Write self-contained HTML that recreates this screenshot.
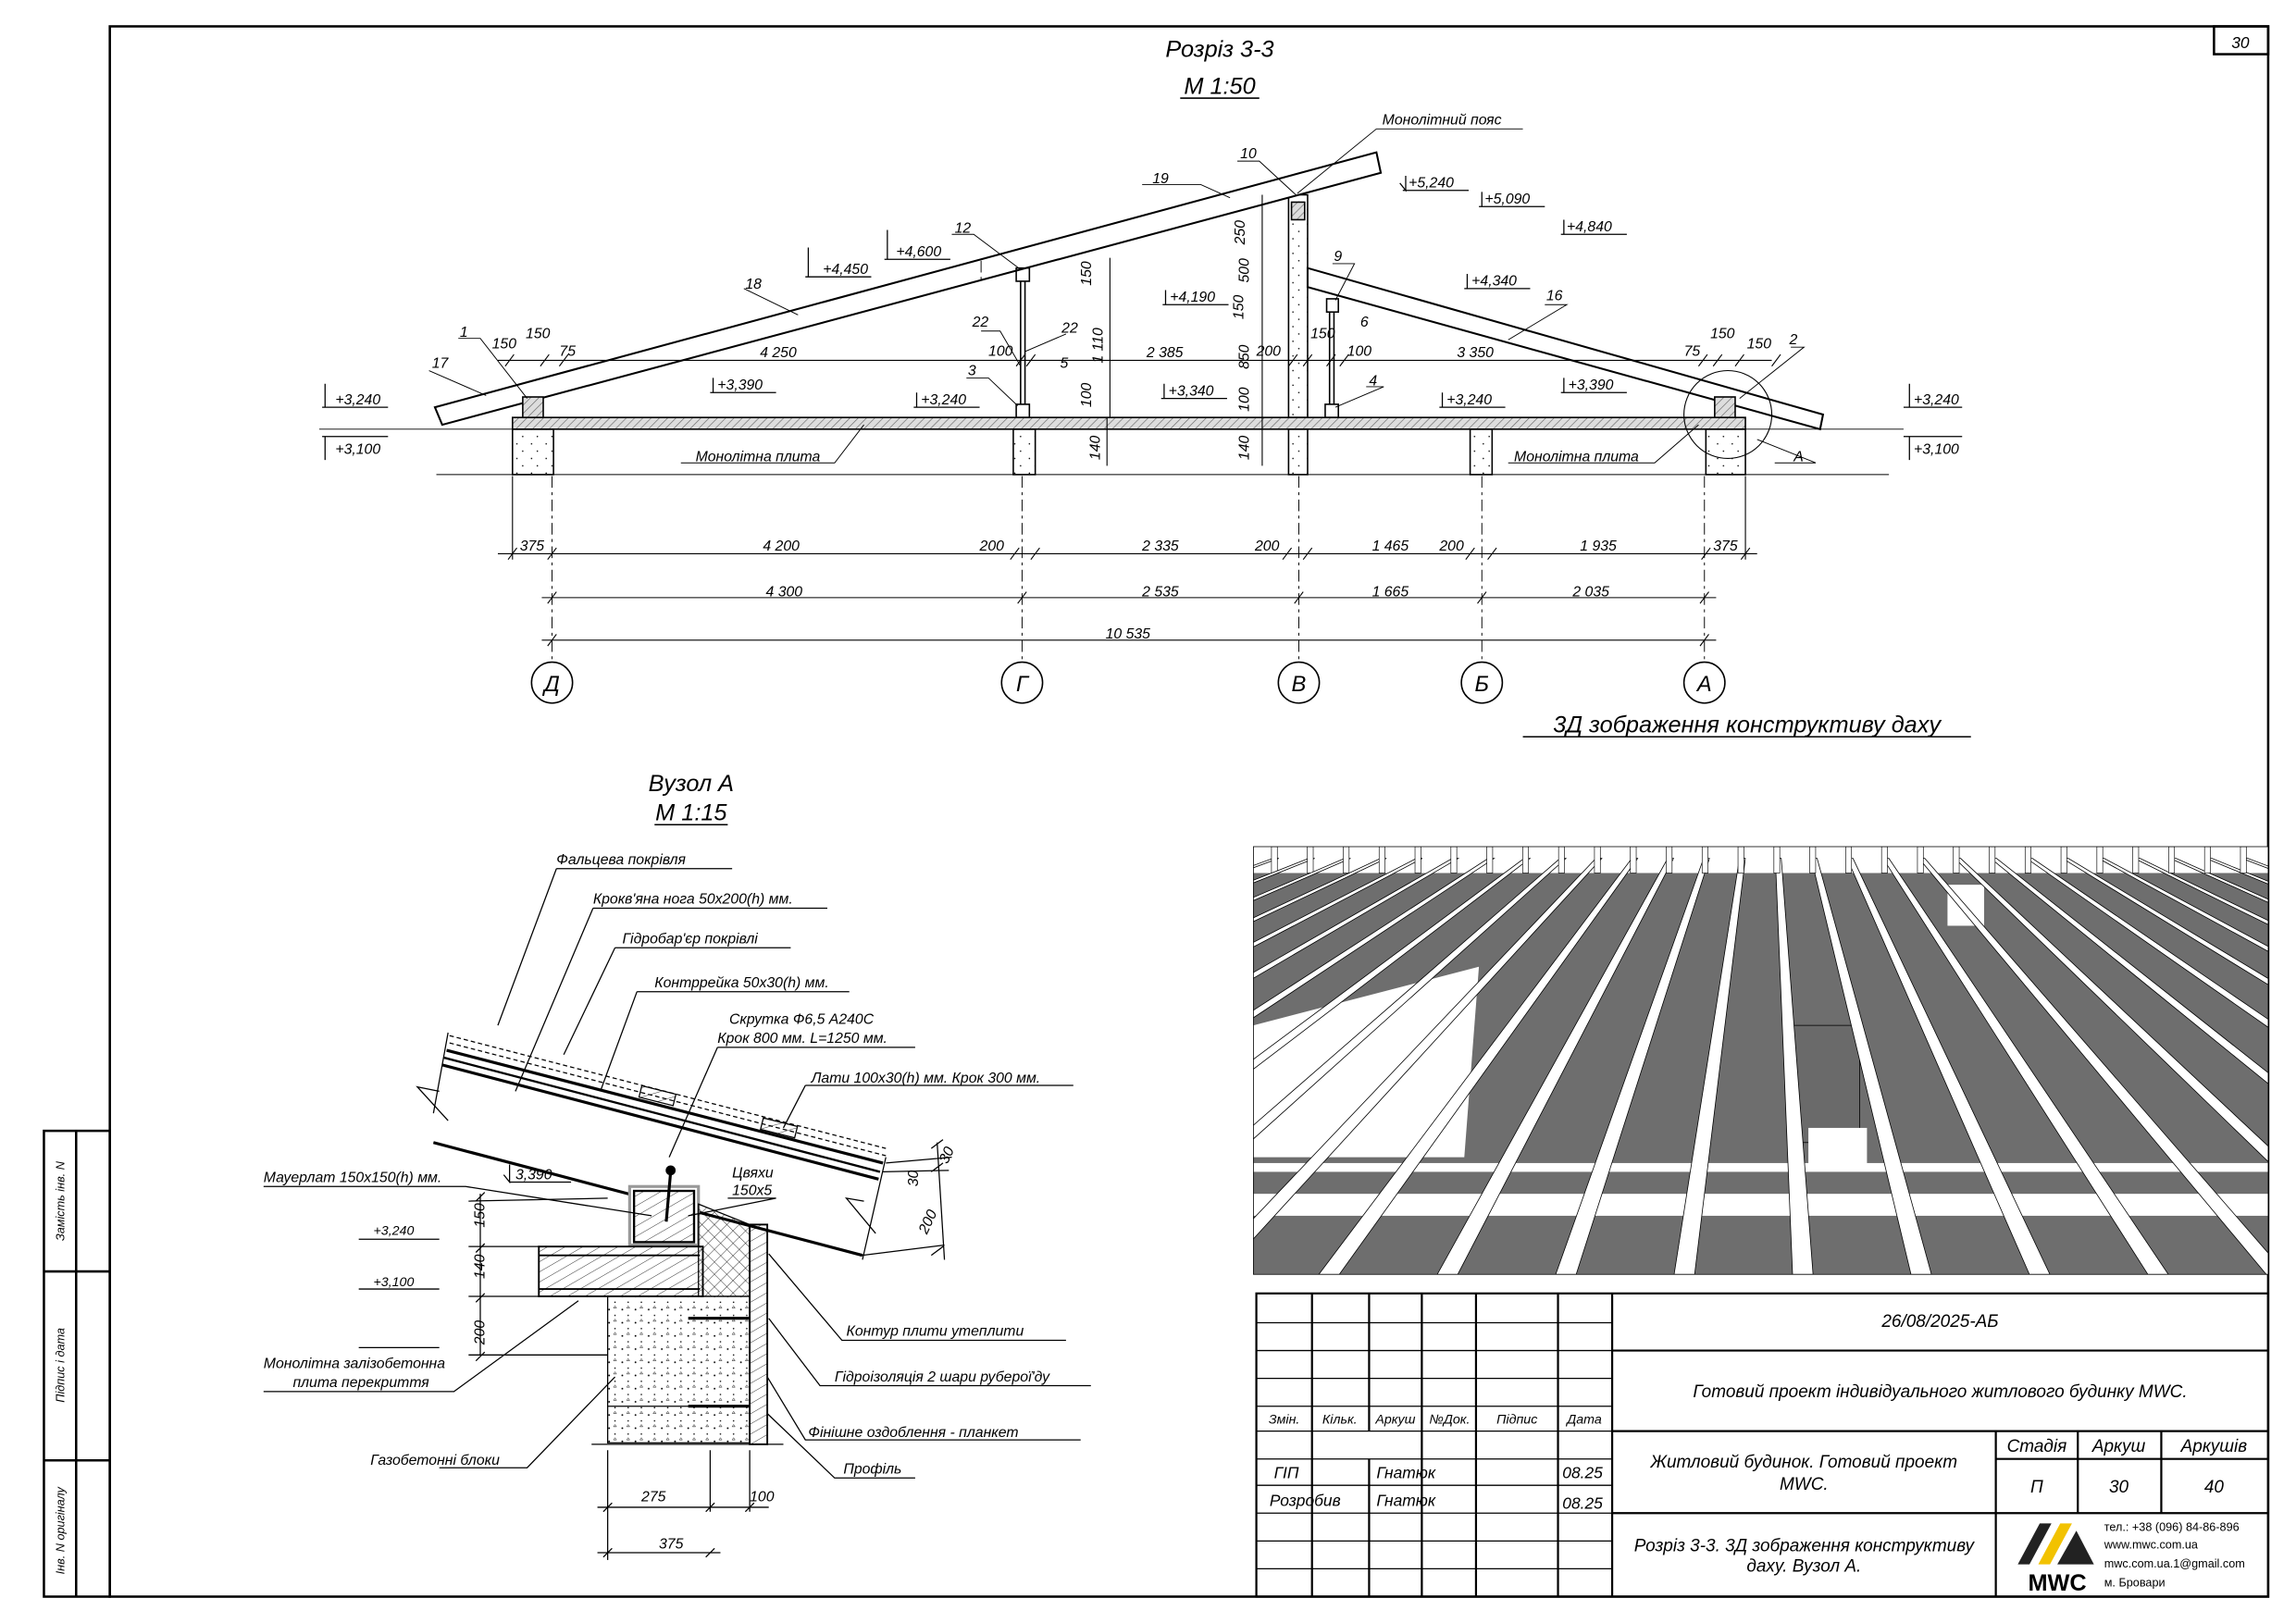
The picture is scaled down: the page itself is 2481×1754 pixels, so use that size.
<!DOCTYPE html>
<html><head><meta charset="utf-8">
<style>
html,body{margin:0;padding:0;background:#fff;}
svg{display:block;}
text{font-family:"Liberation Sans","DejaVu Sans",sans-serif;font-style:italic;fill:#000;}
</style></head>
<body>
<svg id="s" width="2481" height="1754" viewBox="0 0 1568 1108" preserveAspectRatio="none" xmlns="http://www.w3.org/2000/svg">
<defs>
<pattern id="hat" width="4" height="4" patternUnits="userSpaceOnUse" patternTransform="rotate(45)"><rect width="4" height="4" fill="#ddd"/><line x1="0" y1="0" x2="0" y2="4" stroke="#666" stroke-width="0.8"/></pattern>
<pattern id="hat2" width="6" height="6" patternUnits="userSpaceOnUse" patternTransform="rotate(60)"><line x1="0" y1="0" x2="0" y2="6" stroke="#000" stroke-width="0.5"/></pattern>
<pattern id="cross" width="6" height="6" patternUnits="userSpaceOnUse" patternTransform="rotate(45)"><line x1="0" y1="0" x2="0" y2="6" stroke="#000" stroke-width="0.5"/><line x1="0" y1="0" x2="6" y2="0" stroke="#000" stroke-width="0.5"/></pattern>
<pattern id="dots" width="9" height="9" patternUnits="userSpaceOnUse"><circle cx="2" cy="3" r="0.6" fill="#000"/><circle cx="6" cy="7" r="0.5" fill="#000"/><path d="M5 2 l1 -1.5 l1 1.5z" fill="none" stroke="#000" stroke-width="0.3"/></pattern>
<pattern id="blk" width="10" height="10" patternUnits="userSpaceOnUse"><circle cx="3" cy="3" r="0.5" fill="#000"/><circle cx="7" cy="8" r="0.5" fill="#000"/></pattern>
<clipPath id="c3d"><rect x="856" y="578" width="693" height="292"/></clipPath>
</defs>

<g fill="none" stroke="#000" stroke-width="1.6">
<rect x="75" y="18" width="1474" height="1072"/>
<rect x="1512" y="18" width="37" height="19"/>
<rect x="30" y="772" width="45" height="318"/>
<line x1="52" y1="772" x2="52" y2="1090"/>
<line x1="30" y1="868" x2="75" y2="868"/>
<line x1="30" y1="997" x2="75" y2="997"/>
</g>
<text x="1530" y="33" font-size="11" text-anchor="middle">30</text>
<text transform="translate(44,820) rotate(-90)" font-size="8" text-anchor="middle">Замість інв. N</text>
<text transform="translate(44,932) rotate(-90)" font-size="8" text-anchor="middle">Підпис і дата</text>
<text transform="translate(44,1045) rotate(-90)" font-size="8" text-anchor="middle">Інв. N оригіналу</text>

<text x="833" y="39" font-size="16" text-anchor="middle">Розріз 3-3</text>
<text x="833" y="64" font-size="16" text-anchor="middle">М 1:50</text>
<line x1="806" y1="67" x2="860" y2="67" stroke="#000" stroke-width="1"/>

<g stroke="#000" fill="none" stroke-width="1">
<path d="M298 324 H1290" stroke-width="0.6"/>
<line x1="218" y1="293" x2="1300" y2="293" stroke-width="0.6"/>
<rect x="350" y="285" width="842" height="8" fill="url(#hat)"/>
<rect x="350" y="293" width="28" height="31" fill="url(#blk)"/>
<rect x="692" y="293" width="15" height="31" fill="url(#blk)"/>
<rect x="880" y="293" width="13" height="31" fill="url(#blk)"/>
<rect x="1004" y="293" width="15" height="31" fill="url(#blk)"/>
<rect x="1165" y="293" width="27" height="31" fill="url(#blk)"/>
<rect x="880" y="133" width="13" height="152" fill="url(#blk)"/>
<rect x="882" y="138" width="9" height="12" fill="url(#hat)"/>
<path d="M297 278 L940 104 L943 118 L302 290 Z" fill="#fff" stroke-width="1.3"/>
<path d="M893 183 L1245 283 L1243 293 L893 196 Z" fill="#fff" stroke-width="1.3"/>
<rect x="357" y="271" width="14" height="14" fill="url(#hat)"/>
<rect x="1171" y="271" width="14" height="14" fill="url(#hat)"/>
<rect x="694" y="183" width="9" height="9"/>
<rect x="906" y="204" width="8" height="9"/>
<rect x="694" y="276" width="9" height="9"/>
<rect x="905" y="276" width="9" height="9"/>
<line x1="697" y1="192" x2="697" y2="276"/><line x1="700" y1="192" x2="700" y2="276"/>
<line x1="908" y1="213" x2="908" y2="276"/><line x1="911" y1="213" x2="911" y2="276"/>
<circle cx="1180" cy="283" r="30" stroke-width="0.7"/>
<g stroke-dasharray="8 3 2 3" stroke-width="0.6">
<line x1="377" y1="325" x2="377" y2="452"/><line x1="698" y1="325" x2="698" y2="452"/>
<line x1="887" y1="325" x2="887" y2="452"/><line x1="1012" y1="325" x2="1012" y2="452"/>
<line x1="1164" y1="325" x2="1164" y2="452"/>
<line x1="670" y1="178" x2="670" y2="193"/>
</g>
<g stroke-width="0.7">
<line x1="340" y1="378" x2="1200" y2="378"/>
<line x1="370" y1="408" x2="1172" y2="408"/>
<line x1="370" y1="437" x2="1172" y2="437"/>
<line x1="340" y1="246" x2="1210" y2="246"/>
<path d="M347 382l6-8M374 382l6-8M690 382l6-8M704 382l6-8M876 382l6-8M890 382l6-8M1001 382l6-8M1016 382l6-8M1162 382l6-8M1189 382l6-8"/>
<path d="M374 412l6-8M695 412l6-8M884 412l6-8M1009 412l6-8M1161 412l6-8"/>
<path d="M374 441l6-8M1161 441l6-8"/>
<path d="M345 250l6-8M369 250l6-8M382 250l6-8M694 250l6-8M701 250l6-8M880 250l6-8M890 250l6-8M906 250l6-8M915 250l6-8M1160 250l6-8M1170 250l6-8M1185 250l6-8M1210 250l6-8"/>
<line x1="350" y1="325" x2="350" y2="382"/><line x1="1192" y1="325" x2="1192" y2="382"/>
<line x1="758" y1="176" x2="758" y2="285"/>
<line x1="862" y1="133" x2="862" y2="318"/>
<line x1="756" y1="285" x2="756" y2="318"/>
</g>
<circle cx="377" cy="466" r="14"/><circle cx="698" cy="466" r="14"/><circle cx="887" cy="466" r="14"/><circle cx="1012" cy="466" r="14"/><circle cx="1164" cy="466" r="14"/>
<g stroke-width="0.6">
<path d="M940 88 H1040 M940 88 L886 132"/>
<path d="M780 126 H820 L840 135"/>
<path d="M845 110 H860 L885 133"/>
<path d="M650 160 H665 L697 184"/>
<path d="M508 197 L545 215"/>
<path d="M910 180 H925 L912 205"/>
<path d="M1055 208 H1070 L1030 232"/>
<path d="M293 253 L332 270"/>
<path d="M313 231 H328 L360 272"/>
<path d="M1223 237 H1232 L1188 272"/>
<path d="M660 258 H675 L695 277"/>
<path d="M933 264 H945 L912 278"/>
<path d="M670 226 H683 L697 250"/>
<path d="M728 228 L700 240"/>
<path d="M1212 316 H1240 L1200 300"/>
<path d="M465 316 H570 L590 290"/>
<path d="M1030 316 H1130 L1160 290"/>
</g>
<g stroke-width="0.8">
<path d="M958 130 h45 M960 120 v10 l-4 -5"/>
<path d="M1010 141 h45 M1012 131 v10"/>
<path d="M1066 160 h45 M1068 150 v10"/>
<path d="M1000 197 h45 M1002 187 v10"/>
<path d="M794 208 h45 M796 198 v10"/>
<path d="M604 177 h45 M606 157 v20"/>
<path d="M550 189 h45 M552 169 v20"/>
<path d="M485 268 h45 M487 258 v10"/>
<path d="M624 278 h45 M626 268 v10"/>
<path d="M793 272 h45 M795 262 v10"/>
<path d="M983 278 h45 M985 268 v10"/>
<path d="M1066 268 h45 M1068 258 v10"/>
<path d="M220 278 h45 M222 262 v16"/>
<path d="M220 298 h45 M222 298 v16"/>
<path d="M1300 278 h40 M1304 262 v16"/>
<path d="M1300 298 h40 M1304 298 v16"/>
</g>
</g>
<g font-size="10">
<text x="944" y="85">Монолітний пояс</text>
<text x="962" y="128">+5,240</text><text x="1014" y="139">+5,090</text><text x="1070" y="158">+4,840</text>
<text x="1005" y="195">+4,340</text><text x="799" y="206">+4,190</text><text x="612" y="175">+4,600</text>
<text x="562" y="187">+4,450</text><text x="490" y="266">+3,390</text><text x="629" y="276">+3,240</text>
<text x="798" y="270">+3,340</text><text x="988" y="276">+3,240</text><text x="1071" y="266">+3,390</text>
<text x="229" y="276">+3,240</text><text x="229" y="310">+3,100</text>
<text x="1307" y="276">+3,240</text><text x="1307" y="310">+3,100</text>
<text x="787" y="125">19</text><text x="847" y="108">10</text><text x="652" y="159">12</text>
<text x="509" y="197">18</text><text x="911" y="178">9</text><text x="929" y="223">6</text>
<text x="1056" y="205">16</text><text x="295" y="251">17</text><text x="314" y="230">1</text>
<text x="1222" y="235">2</text><text x="661" y="256">3</text><text x="664" y="223">22</text>
<text x="725" y="227">22</text><text x="724" y="251">5</text><text x="935" y="263">4</text>
<text x="1225" y="315">A</text>
<text x="519" y="244">4 250</text><text x="783" y="244">2 385</text><text x="995" y="244">3 350</text>
<text x="336" y="238">150</text><text x="359" y="231">150</text><text x="382" y="243">75</text>
<text x="675" y="243">100</text><text x="858" y="243">200</text><text x="895" y="231">150</text>
<text x="920" y="243">100</text><text x="1150" y="243">75</text><text x="1168" y="231">150</text><text x="1193" y="238">150</text>
<text transform="translate(753,248) rotate(-90)">1 110</text>
<text transform="translate(745,195) rotate(-90)">150</text>
<text transform="translate(745,278) rotate(-90)">100</text>
<text transform="translate(850,167) rotate(-90)">250</text>
<text transform="translate(853,193) rotate(-90)">500</text>
<text transform="translate(849,218) rotate(-90)">150</text>
<text transform="translate(853,252) rotate(-90)">850</text>
<text transform="translate(853,281) rotate(-90)">100</text>
<text transform="translate(853,314) rotate(-90)">140</text>
<text transform="translate(751,314) rotate(-90)">140</text>
<text x="475" y="315">Монолітна плита</text><text x="1034" y="315">Монолітна плита</text>
<text x="355" y="376">375</text><text x="521" y="376">4 200</text><text x="669" y="376">200</text>
<text x="780" y="376">2 335</text><text x="857" y="376">200</text><text x="937" y="376">1 465</text>
<text x="983" y="376">200</text><text x="1079" y="376">1 935</text><text x="1170" y="376">375</text>
<text x="523" y="407">4 300</text><text x="780" y="407">2 535</text><text x="937" y="407">1 665</text><text x="1074" y="407">2 035</text>
<text x="755" y="436">10 535</text>
</g>
<g font-size="15" text-anchor="middle">
<text x="377" y="472">Д</text><text x="698" y="472">Г</text><text x="887" y="472">В</text><text x="1012" y="472">Б</text><text x="1164" y="472">А</text>
</g>
<text x="1193" y="500" font-size="16" text-anchor="middle">3Д зображення конструктиву даху</text>
<line x1="1040" y1="503" x2="1346" y2="503" stroke="#000"/>

<text x="472" y="540" font-size="16" text-anchor="middle">Вузол А</text>
<text x="472" y="560" font-size="16" text-anchor="middle">М 1:15</text>
<line x1="447" y1="563" x2="497" y2="563" stroke="#000"/>
<g stroke="#000" fill="none" stroke-width="0.8">
<path d="M307 707 L605 784" stroke-dasharray="3 2"/>
<path d="M307 712 L605 789" stroke-dasharray="3 2"/>
<path d="M305 717 L603 794" stroke-width="2"/>
<path d="M303 722 L601 800" stroke-width="1.5"/>
<path d="M302 727 L600 805" stroke-width="2"/>
<path d="M296 780 L589 857" stroke-width="2"/>
<path d="M306 705 L296 760 M300 745 L285 742 L306 765"/>
<path d="M605 790 L589 860 M590 820 L578 818 L598 842"/>
<rect x="437" y="744" width="24" height="8" transform="rotate(14 449 748)" fill="url(#hat2)"/>
<rect x="520" y="766" width="24" height="8" transform="rotate(14 532 770)" fill="url(#hat2)"/>
<rect x="430" y="810" width="47" height="40" fill="#fff" stroke="#999" stroke-width="2"/>
<rect x="433" y="813" width="41" height="35" fill="url(#hat2)" stroke-width="1.5"/>
<path d="M455 834 L458 800" stroke-width="2"/><circle cx="458" cy="799" r="3" fill="#000"/>
<rect x="368" y="851" width="112" height="34" fill="url(#hat2)" stroke-width="1.2"/>
<line x1="368" y1="857" x2="478" y2="857" stroke-width="1.2"/><line x1="368" y1="880" x2="478" y2="880" stroke-width="1.2"/>
<path d="M477 822 L512 836 L512 885 L477 885 Z" fill="url(#cross)"/>
<rect x="415" y="885" width="97" height="100" fill="url(#dots)"/>
<line x1="415" y1="960" x2="512" y2="960"/>
<rect x="512" y="836" width="12" height="150" fill="url(#hat2)" stroke-width="1.2"/>
<line x1="404" y1="986" x2="535" y2="986"/>
<path d="M470 900 H512 M470 960 H512" stroke-width="2"/>
<path d="M380 593 H500 M380 593 L340 700"/>
<path d="M405 620 H565 M405 620 L352 745"/>
<path d="M420 647 H540 M420 647 L385 720"/>
<path d="M435 677 H580 M435 677 L410 745"/>
<path d="M490 715 H625 M490 715 L457 790"/>
<path d="M550 741 H733 M550 741 L535 770"/>
<path d="M180 810 H318 L445 830"/>
<path d="M497 818 H530 L470 830"/>
<path d="M348 795 v12 l-4 -5 M348 807 H390"/>
<path d="M245 846 H300 M245 880 H300 M245 920 H300"/>
<path d="M320 820 L415 818 M320 851 H368 M320 885 H368 M320 925 H415"/>
<line x1="328" y1="815" x2="328" y2="925"/>
<path d="M325 820l6-6M325 855l6-6M325 889l6-6M325 929l6-6"/>
<path d="M180 950 H310 L395 888"/>
<path d="M300 1002 H360 L420 940"/>
<path d="M728 915 H575 L525 856"/>
<path d="M745 946 H560 L525 900"/>
<path d="M738 983 H550 L524 940"/>
<path d="M625 1009 H570 L524 965"/>
<path d="M415 990 V1065 M485 990 V1032 M512 990 V1032"/>
<path d="M408 1029 H525 M408 1060 H492"/>
<path d="M412 1032l6-6M482 1032l6-6M509 1032l6-6M412 1063l6-6M482 1063l6-6"/>
<path d="M605 794 L650 790 M603 800 L648 799 M589 857 L645 850 M640 780 L645 860 M636 784l8 -6M636 800l8 -6M636 857l8 -6"/>
</g>
<g font-size="10">
<text x="380" y="590">Фальцева покрівля</text>
<text x="405" y="617">Крокв'яна нога 50х200(h) мм.</text>
<text x="425" y="644">Гідробар'єр покрівлі</text>
<text x="447" y="674">Контррейка 50х30(h) мм.</text>
<text x="498" y="699">Скрутка Ф6,5 А240С</text>
<text x="490" y="712">Крок 800 мм. L=1250 мм.</text>
<text x="554" y="739">Лати 100х30(h) мм. Крок 300 мм.</text>
<text x="180" y="807">Мауерлат 150х150(h) мм.</text>
<text x="500" y="804">Цвяхи</text><text x="500" y="816">150х5</text>
<text x="352" y="805">3,390</text>
<text x="255" y="843" font-size="9">+3,240</text><text x="255" y="878" font-size="9">+3,100</text>
<text x="180" y="934">Монолітна залізобетонна</text><text x="200" y="947">плита перекриття</text>
<text x="253" y="1000">Газобетонні блоки</text>
<text x="578" y="912">Контур плити утеплити</text>
<text x="570" y="943">Гідроізоляція 2 шари руберої'ду</text>
<text x="552" y="981">Фінішне оздоблення - планкет</text>
<text x="576" y="1006">Профіль</text>
<text x="438" y="1025">275</text><text x="512" y="1025">100</text><text x="450" y="1057">375</text>
<text transform="translate(331,838) rotate(-90)">150</text>
<text transform="translate(331,873) rotate(-90)">140</text>
<text transform="translate(331,918) rotate(-90)">200</text>
<text transform="translate(627,810) rotate(-90)">30</text>
<text transform="translate(647,795) rotate(-65)">30</text>
<text transform="translate(633,843) rotate(-65)">200</text>
</g>

<g id="g3d" clip-path="url(#c3d)">
<rect x="856" y="578" width="693" height="292" fill="#fff"/>
<rect x="856" y="596" width="693" height="274" fill="#6e6e6e"/>
<polygon points="856,700 1010,660 1000,790 856,790" fill="#fff"/>
<rect x="856" y="794" width="693" height="6" fill="#fff"/>
<rect x="856" y="815" width="693" height="15" fill="#fff"/>
<rect x="1225" y="700" width="45" height="80" fill="#6a6a6a" stroke="#000" stroke-width="0.5"/>
<rect x="1235" y="770" width="40" height="25" fill="#fff"/>
<rect x="1330" y="604" width="25" height="28" fill="#fff"/>
</g>
<rect x="856" y="578" width="693" height="292" fill="none" stroke="#000" stroke-width="0.5"/>

<g stroke="#000" fill="none" stroke-width="1.4">
<rect x="858" y="883" width="691" height="207"/>
<line x1="1101" y1="883" x2="1101" y2="1090"/>
<path d="M896 883V1090M935 883V977M971 883V1090M1008 883V1090M1064 883V1090"/>
<path d="M935 996V1090" />
</g>
<g stroke="#000" fill="none" stroke-width="0.8">
<path d="M858 903H1101M858 922H1101M858 941H1101M858 960H1101M858 977H1101M858 996H1101M858 1014H1101M858 1033H1101M858 1052H1101M858 1071H1101"/>
<path d="M1101 922H1549M1101 977H1549M1101 1033H1549M1363 977V1033M1419 977V1033M1476 977V1033M1363 996H1549M1363 1033V1090" stroke-width="1.4"/>
</g>
<g font-size="9" text-anchor="middle">
<text x="877" y="972">Змін.</text><text x="915" y="972">Кільк.</text><text x="953" y="972">Аркуш</text><text x="990" y="972">№Док.</text><text x="1036" y="972">Підпис</text><text x="1082" y="972">Дата</text>
</g>
<g font-size="11">
<text x="870" y="1009">ГІП</text><text x="940" y="1009">Гнатюк</text><text x="1067" y="1009">08.25</text>
<text x="867" y="1028">Розробив</text><text x="940" y="1028">Гнатюк</text><text x="1067" y="1030">08.25</text>
</g>
<g font-size="12" text-anchor="middle">
<text x="1325" y="906">26/08/2025-АБ</text>
<text x="1325" y="954">Готовий проект індивідуального житлового будинку MWC.</text>
<text x="1232" y="1002">Житловий будинок. Готовий проект</text>
<text x="1232" y="1017">MWC.</text>
<text x="1391" y="991">Стадія</text><text x="1447" y="991">Аркуш</text><text x="1512" y="991">Аркушів</text>
<text x="1391" y="1019">П</text><text x="1447" y="1019">30</text><text x="1512" y="1019">40</text>
<text x="1232" y="1059">Розріз 3-3. 3Д зображення конструктиву</text>
<text x="1232" y="1073">даху. Вузол А.</text>
</g>
<g>
<polygon points="1378,1068 1393,1040 1401,1040 1386,1068" fill="#222"/>
<polygon points="1392,1068 1407,1040 1415,1040 1400,1068" fill="#f2c200"/>
<polygon points="1405,1068 1418,1045 1430,1068" fill="#222"/>
<text x="1405" y="1086" font-size="16" font-weight="bold" fill="#f2c200" text-anchor="middle" style="font-style:normal">MWC</text>
<g font-size="8">
<text x="1437" y="1045" style="font-style:normal">тел.: +38 (096) 84-86-896</text>
<text x="1437" y="1057" style="font-style:normal">www.mwc.com.ua</text>
<text x="1437" y="1070" style="font-style:normal">mwc.com.ua.1@gmail.com</text>
<text x="1437" y="1083" style="font-style:normal">м. Бровари</text>
</g>
</g>
</svg>
<script>
(function(){
var g=document.getElementById('g3d'),h='';
for(var i=0;i<28;i++){
 var zt=30+i*55.2;
 var xt=856+zt*0.444;
 var xb=856+(820+(zt-800)*3.3)*0.444;
 var wt=4, wb=14;
 h+='<polygon points="'+xt+',586 '+(xt+wt)+',586 '+(xb+wb)+',870 '+xb+',870" fill="#fff" stroke="#000" stroke-width="0.5"/>';
 h+='<rect x="'+(xt-1)+'" y="578" width="4" height="18" fill="#fff" stroke="#000" stroke-width="0.4"/>';
}
g.insertAdjacentHTML('beforeend',h);
})();
</script>
</body></html>
